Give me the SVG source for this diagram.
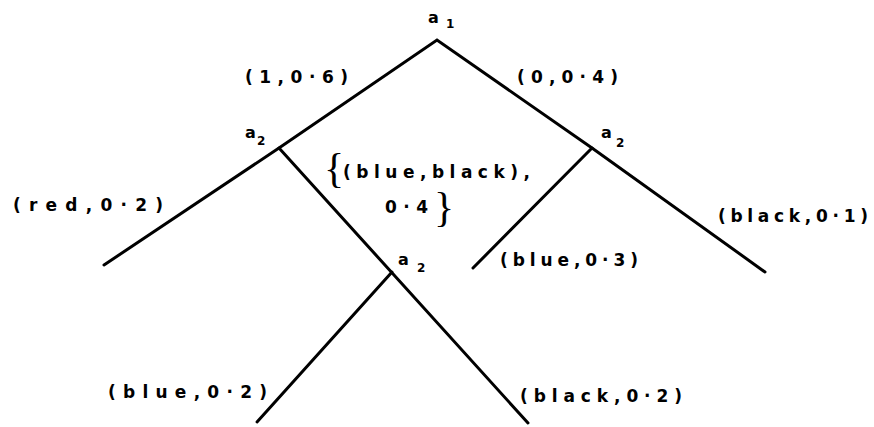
<svg xmlns="http://www.w3.org/2000/svg" width="874" height="427" viewBox="0 0 874 427">
<style>
.e{stroke:#000;stroke-width:3;fill:none;stroke-linecap:round}
.t{font-family:"DejaVu Sans",sans-serif;font-weight:bold;font-size:17px;fill:#000}
.n{font-family:"DejaVu Sans",sans-serif;font-weight:bold;font-size:16px;fill:#000}
.s{font-family:"DejaVu Sans",sans-serif;font-weight:bold;font-size:12px;fill:#000}
.b{font-family:"Liberation Serif",serif;font-size:42px;fill:#000}
</style>
<rect width="874" height="427" fill="#fff"/>
<g id="connectors">
<polyline class="e" points="104,265 279,148 437,40 592,148 765,272"/>
<line class="e" x1="279" y1="148" x2="528" y2="423"/>
<line class="e" x1="392" y1="272" x2="257" y2="422"/>
<line class="e" x1="592" y1="148" x2="473" y2="268"/>
</g>
<g id="edge-labels">
<text class="t" x="245" y="83" textLength="103" lengthAdjust="spacing">(1,0·6)</text>
<text class="t" x="517" y="83" textLength="101" lengthAdjust="spacing">(0,0·4)</text>
<text class="t" x="13" y="211" textLength="150" lengthAdjust="spacing">(red,0·2)</text>
<text class="t" x="718" y="222" textLength="150" lengthAdjust="spacing">(black,0·1)</text>
<text class="t" x="500" y="266" textLength="138" lengthAdjust="spacing">(blue,0·3)</text>
<text class="t" x="108" y="398" textLength="159" lengthAdjust="spacing">(blue,0·2)</text>
<text class="t" x="520" y="402" textLength="162" lengthAdjust="spacing">(black,0·2)</text>
<text class="b" x="324" y="182">{</text>
<text class="t" x="343" y="178" textLength="187" lengthAdjust="spacing">(blue,black),</text>
<text class="t" x="385" y="213" textLength="43" lengthAdjust="spacing">0·4</text>
<text class="b" x="434" y="221">}</text>
</g>
<g id="node-a1">
<text class="n" x="428" y="23">a</text><text class="s" x="446" y="28">1</text>
</g>
<g id="node-a2-left">
<text class="n" x="245" y="138">a</text><text class="s" x="257" y="145">2</text>
</g>
<g id="node-a2-right">
<text class="n" x="601" y="138">a</text><text class="s" x="616" y="147">2</text>
</g>
<g id="node-a2-mid">
<text class="n" x="398" y="265">a</text><text class="s" x="417" y="272">2</text>
</g>
</svg>
